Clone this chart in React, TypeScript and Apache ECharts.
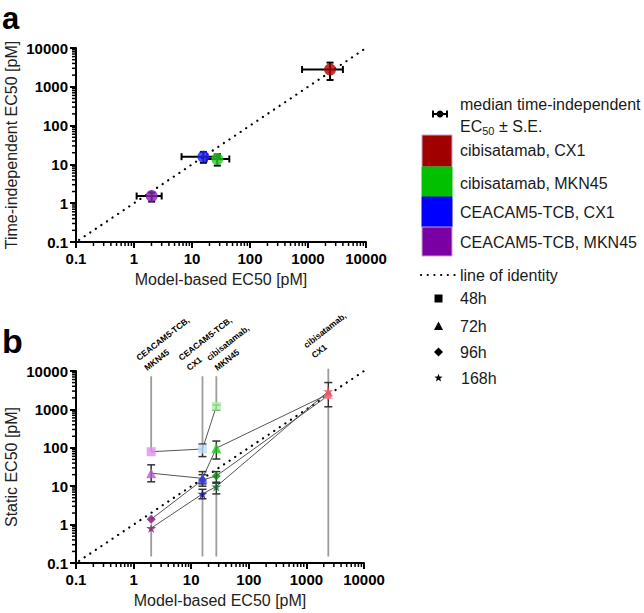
import React, { useEffect, useRef } from 'react';
import * as echarts from 'echarts';

// ---------- data ----------
const AXIS_MIN = 0.1;
const AXIS_MAX = 10000;

const COMBOS = ['cibisatamab, CX1', 'cibisatamab, MKN45', 'CEACAM5-TCB, CX1', 'CEACAM5-TCB, MKN45'];
const LABEL_LINE1 = ['cibisatamab,', 'cibisatamab,', 'CEACAM5-TCB,', 'CEACAM5-TCB,'];
const LABEL_LINE2 = ['CX1', 'MKN45', 'CX1', 'MKN45'];

// panel a
const MODEL_EC50 = [2400, 27.3, 15.7, 2.02];
const MODEL_LO = [790, 17.8, 6.6, 1.11];
const MODEL_HI = [4000, 44, 30, 3.0];
const TI_EC50 = [2800, 13.8, 15.8, 1.53];
const TI_LO = [1500, 9.3, 11, 1.1];
const TI_HI = [4200, 18, 21, 1.87];

// panel b (static EC50 per time point, per combo in COMBOS order)
const TIMES = ['48h', '72h', '96h', '168h'];
const STATIC_48 = [null, 1200, 93, 79];
const STATIC_48_LO = [null, 950, 59, null];
const STATIC_48_HI = [null, 1300, 125, null];
const STATIC_72 = [2500, 98, 16, 21.8];
const STATIC_72_LO = [null, 51, 11.5, 13];
const STATIC_72_HI = [null, 150, 24, 36];
const STATIC_96 = [2300, 18.5, 14.5, 1.38];
const STATIC_96_LO = [null, 12.7, 10, null];
const STATIC_96_HI = [null, 24, 20, null];
const STATIC_168 = [2950, 9.8, 6.3, 0.81];
const STATIC_168_LO = [1170, 6.3, 4.7, null];
const STATIC_168_HI = [5000, 12, 8.3, null];
const GUIDE_TOP = [11500, 7300, 7300, 7300];
const GUIDE_BOTTOM = [0.148, 0.148, 0.148, 0.148];
const IDENTITY_START = 0.113;

// ---------- styles ----------
const FONT = 'Liberation Sans, Arial, sans-serif';
const COLORS_A = ['#b00000', '#22c822', '#1f1fff', '#8a22b0'];
const COLORS_LEGEND = ['#a00000', '#00c000', '#0000ff', '#7a00a3'];
const COLORS_B = [
  ['#f4a0a8', '#a8f4a2', '#c6dcf6', '#e48cf2'], // 48h
  ['#f6a4a8', '#1ecb1e', '#5a5cf6', '#b45ad8'], // 72h
  ['#f06070', '#0a8a0a', '#3535cc', '#800a80'], // 96h
  ['#f04a5a', '#0b6b2b', '#12128c', '#7a1f6e'], // 168h
];
const SYMBOLS = ['rect', 'triangle', 'path://M50,0 L100,50 L50,100 L0,50 Z', 'path://M50,0 L61,35 L98,35 L68,57 L79,91 L50,70 L21,91 L32,57 L2,35 L39,35 Z'];
const SYMBOL_SIZES = [9, 10, 9, 10];
const LABEL_OFFSETS = [[-13, -9], [2, -4], [-12, -4], [-3, -4]];
const LABEL_ROT = (38 * Math.PI) / 180;

const STATIC = [STATIC_48, STATIC_72, STATIC_96, STATIC_168];
const STATIC_LO = [STATIC_48_LO, STATIC_72_LO, STATIC_96_LO, STATIC_168_LO];
const STATIC_HI = [STATIC_48_HI, STATIC_72_HI, STATIC_96_HI, STATIC_168_HI];

const fmt = (v: number) => String(Number(Number(v).toPrecision(6)));

const minorValues: number[] = [];
for (let k = -1; k <= 3; k++) for (let m = 2; m <= 9; m++) minorValues.push(Number((m * Math.pow(10, k)).toPrecision(6)));

function starPoints(cx: number, cy: number, R: number, r: number) {
  const pts: number[][] = [];
  for (let i = 0; i < 10; i++) {
    const a = -Math.PI / 2 + (i * Math.PI) / 5;
    const rad = i % 2 === 0 ? R : r;
    pts.push([cx + rad * Math.cos(a), cy + rad * Math.sin(a)]);
  }
  return pts;
}

function makeAxes(gi: number, xName: string, yName: string) {
  const common = {
    gridIndex: gi,
    type: 'log' as const,
    logBase: 10,
    min: AXIS_MIN,
    max: AXIS_MAX,
    splitLine: { show: false },
    axisLine: { onZero: false, lineStyle: { color: '#000', width: 2 } },
    axisTick: { length: 6, lineStyle: { color: '#000', width: 2 } },
    nameLocation: 'middle' as const,
    nameTextStyle: { fontFamily: FONT, fontSize: 16, color: '#222' },
  };
  return {
    x: {
      ...common,
      name: xName,
      nameGap: 29,
      axisLabel: { fontFamily: FONT, fontWeight: 'bold', fontSize: 15, color: '#000', margin: 9, formatter: fmt },
    },
    y: {
      ...common,
      name: yName,
      nameGap: 57,
      axisLabel: { fontFamily: FONT, fontWeight: 'bold', fontSize: 15, color: '#000', margin: 8, formatter: fmt },
    },
  };
}

function minorTickSeries(gi: number) {
  const base = {
    type: 'custom',
    xAxisIndex: gi,
    yAxisIndex: gi,
    clip: false,
    silent: true,
    z: 5,
  };
  return [
    {
      ...base,
      data: minorValues.map((v) => [v, AXIS_MIN]),
      renderItem: (params: any, api: any) => {
        const p = api.coord([api.value(0), AXIS_MIN]);
        return { type: 'line', shape: { x1: p[0], y1: p[1], x2: p[0], y2: p[1] + 4 }, style: { stroke: '#000', lineWidth: 1.5 } };
      },
    },
    {
      ...base,
      data: minorValues.map((v) => [AXIS_MIN, v]),
      renderItem: (params: any, api: any) => {
        const p = api.coord([AXIS_MIN, api.value(1)]);
        return { type: 'line', shape: { x1: p[0], y1: p[1], x2: p[0] - 4, y2: p[1] }, style: { stroke: '#000', lineWidth: 1.5 } };
      },
    },
  ];
}

function identitySeries(gi: number) {
  return {
    type: 'line',
    xAxisIndex: gi,
    yAxisIndex: gi,
    data: [[IDENTITY_START, IDENTITY_START], [AXIS_MAX, AXIS_MAX]],
    symbol: 'none',
    silent: true,
    z: 3,
    lineStyle: { color: '#000', width: 2.2, type: [0.1, 6.6], cap: 'round' },
  };
}

function buildOption() {
  const a = makeAxes(0, 'Model-based EC50 [pM]', 'Time-independent EC50 [pM]');
  const b = makeAxes(1, 'Model-based EC50 [pM]', 'Static EC50 [pM]');

  const series: any[] = [];
  // ---- panel a ----
  series.push(...minorTickSeries(0));
  series.push(identitySeries(0));
  series.push({
    type: 'custom',
    xAxisIndex: 0,
    yAxisIndex: 0,
    clip: false,
    z: 6,
    data: MODEL_EC50.map((x, i) => [x, TI_EC50[i], MODEL_LO[i], MODEL_HI[i], TI_LO[i], TI_HI[i]]),
    renderItem: (params: any, api: any) => {
      const x = api.value(0), y = api.value(1);
      const l = api.coord([api.value(2), y]);
      const r = api.coord([api.value(3), y]);
      const b1 = api.coord([x, api.value(4)]);
      const t = api.coord([x, api.value(5)]);
      const st = { stroke: '#000', lineWidth: 2 };
      const cap = 3.5;
      return {
        type: 'group',
        children: [
          { type: 'line', shape: { x1: l[0], y1: l[1], x2: r[0], y2: r[1] }, style: st },
          { type: 'line', shape: { x1: l[0], y1: l[1] - cap, x2: l[0], y2: l[1] + cap }, style: st },
          { type: 'line', shape: { x1: r[0], y1: r[1] - cap, x2: r[0], y2: r[1] + cap }, style: st },
          { type: 'line', shape: { x1: t[0], y1: t[1], x2: b1[0], y2: b1[1] }, style: st },
          { type: 'line', shape: { x1: t[0] - cap, y1: t[1], x2: t[0] + cap, y2: t[1] }, style: st },
          { type: 'line', shape: { x1: b1[0] - cap, y1: b1[1], x2: b1[0] + cap, y2: b1[1] }, style: st },
        ],
      };
    },
  });
  series.push({
    type: 'scatter',
    xAxisIndex: 0,
    yAxisIndex: 0,
    symbol: 'circle',
    symbolSize: 12,
    z: 7,
    data: MODEL_EC50.map((x, i) => ({ value: [x, TI_EC50[i]], itemStyle: { color: COLORS_A[i] } })),
  });

  // ---- panel b ----
  series.push(...minorTickSeries(1));
  // guide lines
  series.push({
    type: 'custom',
    xAxisIndex: 1,
    yAxisIndex: 1,
    clip: false,
    silent: true,
    z: 2,
    data: MODEL_EC50.map((x, i) => {
      const vals: number[] = [];
      for (let t = 0; t < TIMES.length; t++) {
        if (STATIC[t][i] != null) vals.push(STATIC[t][i] as number);
        if (STATIC_LO[t][i] != null) vals.push(STATIC_LO[t][i] as number);
        if (STATIC_HI[t][i] != null) vals.push(STATIC_HI[t][i] as number);
      }
      return [x, GUIDE_TOP[i], Math.max(...vals), Math.min(...vals), GUIDE_BOTTOM[i]];
    }),
    renderItem: (params: any, api: any) => {
      const x = api.value(0);
      const p1 = api.coord([x, api.value(1)]);
      const p2 = api.coord([x, api.value(2)]);
      const p3 = api.coord([x, api.value(3)]);
      const p4 = api.coord([x, api.value(4)]);
      const st = { stroke: '#9c9c9c', lineWidth: 1.8 };
      return {
        type: 'group',
        children: [
          { type: 'line', shape: { x1: p1[0], y1: p1[1], x2: p2[0], y2: p2[1] }, style: st },
          { type: 'line', shape: { x1: p3[0], y1: p3[1], x2: p4[0], y2: p4[1] }, style: st },
        ],
      };
    },
  });
  // rotated labels
  series.push({
    type: 'custom',
    xAxisIndex: 1,
    yAxisIndex: 1,
    clip: false,
    silent: true,
    z: 2,
    data: MODEL_EC50.map((x, i) => [x, GUIDE_TOP[i]]),
    renderItem: (params: any, api: any) => {
      const i = params.dataIndex;
      const p = api.coord([api.value(0), api.value(1)]);
      const x2 = p[0] + LABEL_OFFSETS[i][0];
      const y2 = p[1] + LABEL_OFFSETS[i][1];
      const ts = { font: `bold 8.5px ${FONT}`, fill: '#000', align: 'left', verticalAlign: 'bottom' };
      return {
        type: 'group',
        children: [
          { type: 'text', x: x2 - 8, y: y2 - 10, rotation: LABEL_ROT, style: { ...ts, text: LABEL_LINE1[i] } },
          { type: 'text', x: x2, y: y2, rotation: LABEL_ROT, style: { ...ts, text: LABEL_LINE2[i] } },
        ],
      };
    },
  });
  series.push(identitySeries(1));
  // connecting lines per time point
  TIMES.forEach((t, ti) => {
    const pts = MODEL_EC50.map((x, i) => [x, STATIC[ti][i]])
      .filter((d) => d[1] != null)
      .sort((p, q) => (p[0] as number) - (q[0] as number));
    series.push({
      type: 'line',
      name: t,
      xAxisIndex: 1,
      yAxisIndex: 1,
      data: pts,
      symbol: 'none',
      silent: true,
      z: 4,
      lineStyle: { color: '#555', width: 1 },
    });
  });
  // error bars
  const errData: number[][] = [];
  TIMES.forEach((t, ti) => {
    MODEL_EC50.forEach((x, i) => {
      if (STATIC_LO[ti][i] != null) errData.push([x, STATIC_LO[ti][i] as number, STATIC_HI[ti][i] as number]);
    });
  });
  series.push({
    type: 'custom',
    xAxisIndex: 1,
    yAxisIndex: 1,
    clip: false,
    z: 5,
    data: errData,
    renderItem: (params: any, api: any) => {
      const x = api.value(0);
      const lo = api.coord([x, api.value(1)]);
      const hi = api.coord([x, api.value(2)]);
      const st = { stroke: '#333', lineWidth: 1.5 };
      const cap = 4;
      return {
        type: 'group',
        children: [
          { type: 'line', shape: { x1: lo[0], y1: lo[1], x2: hi[0], y2: hi[1] }, style: st },
          { type: 'line', shape: { x1: lo[0] - cap, y1: lo[1], x2: lo[0] + cap, y2: lo[1] }, style: st },
          { type: 'line', shape: { x1: hi[0] - cap, y1: hi[1], x2: hi[0] + cap, y2: hi[1] }, style: st },
        ],
      };
    },
  });
  // markers
  TIMES.forEach((t, ti) => {
    series.push({
      type: 'scatter',
      name: t,
      xAxisIndex: 1,
      yAxisIndex: 1,
      symbol: SYMBOLS[ti],
      symbolSize: SYMBOL_SIZES[ti],
      z: 6 + (ti === 3 ? 1 : 0),
      data: MODEL_EC50.map((x, i) =>
        STATIC[ti][i] == null ? null : { value: [x, STATIC[ti][i]], itemStyle: { color: COLORS_B[ti][i] } }
      ).filter((d) => d != null),
    });
  });

  // ---- legend & panel letters (graphic) ----
  const LX = 460;
  const txt = (text: string, x: number, y: number, size = 16, extra: any = {}) => ({
    type: 'text',
    x,
    y,
    style: { text, font: `${size}px ${FONT}`, fill: '#1a1a1a', align: 'left', verticalAlign: 'middle', ...extra },
  });
  const legendRows = [150, 183, 212, 242];
  const boxEdges = [135, 167, 197, 227, 256];
  const graphic: any[] = [
    { type: 'text', x: 2, y: 3, style: { text: 'a', font: `bold 31px ${FONT}`, fill: '#000', align: 'left', verticalAlign: 'top' } },
    { type: 'text', x: 2, y: 341, style: { text: 'b', font: `bold 34px ${FONT}`, fill: '#000', align: 'left', verticalAlign: 'middle' } },
    // error bar icon
    { type: 'line', shape: { x1: 433, y1: 114, x2: 447, y2: 114 }, style: { stroke: '#000', lineWidth: 2 } },
    { type: 'line', shape: { x1: 433, y1: 110.5, x2: 433, y2: 117.5 }, style: { stroke: '#000', lineWidth: 2 } },
    { type: 'line', shape: { x1: 447, y1: 110.5, x2: 447, y2: 117.5 }, style: { stroke: '#000', lineWidth: 2 } },
    { type: 'circle', shape: { cx: 440, cy: 114, r: 3.5 }, style: { fill: '#000' } },
    txt('median time-independent', LX, 104),
    txt('EC', LX, 126),
    txt('50', LX + 22.2, 131, 11),
    txt('\u00b1 S.E.', LX + 39, 126),
    // dotted line
    { type: 'line', shape: { x1: 421, y1: 275, x2: 456, y2: 275 }, style: { stroke: '#000', lineWidth: 2.2, lineDash: [0.1, 6.6], lineCap: 'round' } },
    txt('line of identity', LX, 275),
    // time symbols
    { type: 'rect', shape: { x: 434.5, y: 294.5, width: 8, height: 8 }, style: { fill: '#000' } },
    { type: 'polygon', shape: { points: [[438.5, 321.5], [443, 330], [434, 330]] }, style: { fill: '#000' } },
    { type: 'polygon', shape: { points: [[438.5, 347.5], [443, 352], [438.5, 356.5], [434, 352]] }, style: { fill: '#000' } },
    { type: 'polygon', shape: { points: starPoints(438.5, 378, 4.3, 1.8) }, style: { fill: '#000' } },
    txt('48h', LX, 298.5),
    txt('72h', LX, 326),
    txt('96h', LX, 352),
    txt('168h', LX + 1, 378),
  ];
  COMBOS.forEach((c, i) => {
    graphic.push({
      type: 'rect',
      shape: { x: 422, y: boxEdges[i], width: 30, height: boxEdges[i + 1] - boxEdges[i] },
      style: { fill: COLORS_LEGEND[i], stroke: i === 0 || i === 3 ? '#c9a3c0' : COLORS_LEGEND[i], lineWidth: 1 },
    });
    graphic.push(txt(c, LX, legendRows[i]));
  });

  return {
    animation: false,
    backgroundColor: '#fff',
    grid: [
      { left: 76, top: 48, width: 290, height: 194 },
      { left: 76, top: 371, width: 288, height: 192 },
    ],
    xAxis: [a.x, b.x],
    yAxis: [a.y, b.y],
    series,
    graphic,
  };
}

export default function App() {
  const ref = useRef<HTMLDivElement>(null);
  useEffect(() => {
    if (!ref.current) return;
    const chart = echarts.init(ref.current, undefined, { renderer: 'svg' });
    chart.setOption(buildOption() as any);
    return () => chart.dispose();
  }, []);
  return <div ref={ref} style={{ position: 'absolute', left: 0, top: 0, width: 644, height: 613, background: '#fff' }} />;
}
